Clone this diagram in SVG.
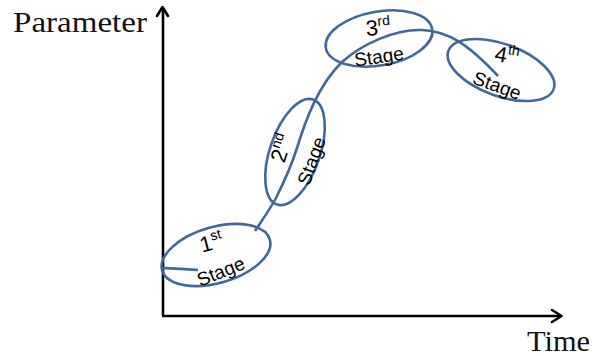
<svg xmlns="http://www.w3.org/2000/svg" width="596" height="356" viewBox="0 0 596 356">
<style>
.axis{stroke:#000;stroke-width:2.6;fill:none}
.head{stroke:#000;stroke-width:2.6;fill:none;stroke-linecap:round;stroke-linejoin:round}
.blue{stroke:#41689A;stroke-width:2.6;fill:none}
.lbl{font-family:"Liberation Serif","Times New Roman",serif;font-size:30px;fill:#111}
.st{font-family:"Liberation Sans",Arial,sans-serif;font-size:19px;fill:#000;text-anchor:middle}
.num{font-family:"Liberation Sans",Arial,sans-serif;font-size:22px;fill:#000;text-anchor:middle}
.sup{font-size:14px}
</style>
<rect width="596" height="356" fill="#fff"/>
<g id="axes">
  <path class="axis" d="M163,316 L163,8 M162,316 L561,316"/>
  <path class="head" d="M157,16 L162.5,7 L168,16"/>
  <path class="head" d="M552,310 L561.5,316 L552,322"/>
</g>
<g id="axis-labels">
  <text class="lbl" x="13" y="32" textLength="134" lengthAdjust="spacingAndGlyphs">Parameter</text>
  <text class="lbl" x="527" y="351" textLength="63" lengthAdjust="spacingAndGlyphs">Time</text>
</g>
<g id="connectors">
  <path class="blue" d="M163,268 C175,268.5 188,269 198,270 M255,231 C263,219 270,209 276,198 C285,180 292,164 297,148 C305,122 318,85 342,62 C362,44 395,29 422,30 C448,31 468,44 498,76"/>
</g>
<g id="stage1">
  <ellipse class="blue" cx="216" cy="255" rx="56" ry="28" transform="rotate(-16 216 255)"/>
  <text class="num" transform="translate(211,242) rotate(-15)" y="8">1<tspan class="sup" dy="-9">st</tspan></text>
  <text class="st" transform="translate(221,272) rotate(-22)" y="6">Stage</text>
</g>
<g id="stage2">
  <ellipse class="blue" cx="295" cy="152" rx="55.5" ry="25" transform="rotate(-71 295 152)"/>
  <text class="num" transform="translate(281,148) rotate(-72)" y="8">2<tspan class="sup" dy="-9">nd</tspan></text>
  <text class="st" transform="translate(312,161) rotate(-70)" y="6">Stage</text>
</g>
<g id="stage3">
  <ellipse class="blue" cx="379" cy="38.5" rx="54" ry="27" transform="rotate(-10 379 38.5)"/>
  <text class="num" transform="translate(378,27) rotate(-5)" y="8">3<tspan class="sup" dy="-9">rd</tspan></text>
  <text class="st" transform="translate(379,57) rotate(-8)" y="6">Stage</text>
</g>
<g id="stage4">
  <ellipse class="blue" cx="501" cy="70" rx="56" ry="26" transform="rotate(20 501 70)"/>
  <text class="num" transform="translate(507,55) rotate(10)" y="8">4<tspan class="sup" dy="-9">th</tspan></text>
  <text class="st" transform="translate(497,86) rotate(20)" y="6">Stage</text>
</g>
</svg>
